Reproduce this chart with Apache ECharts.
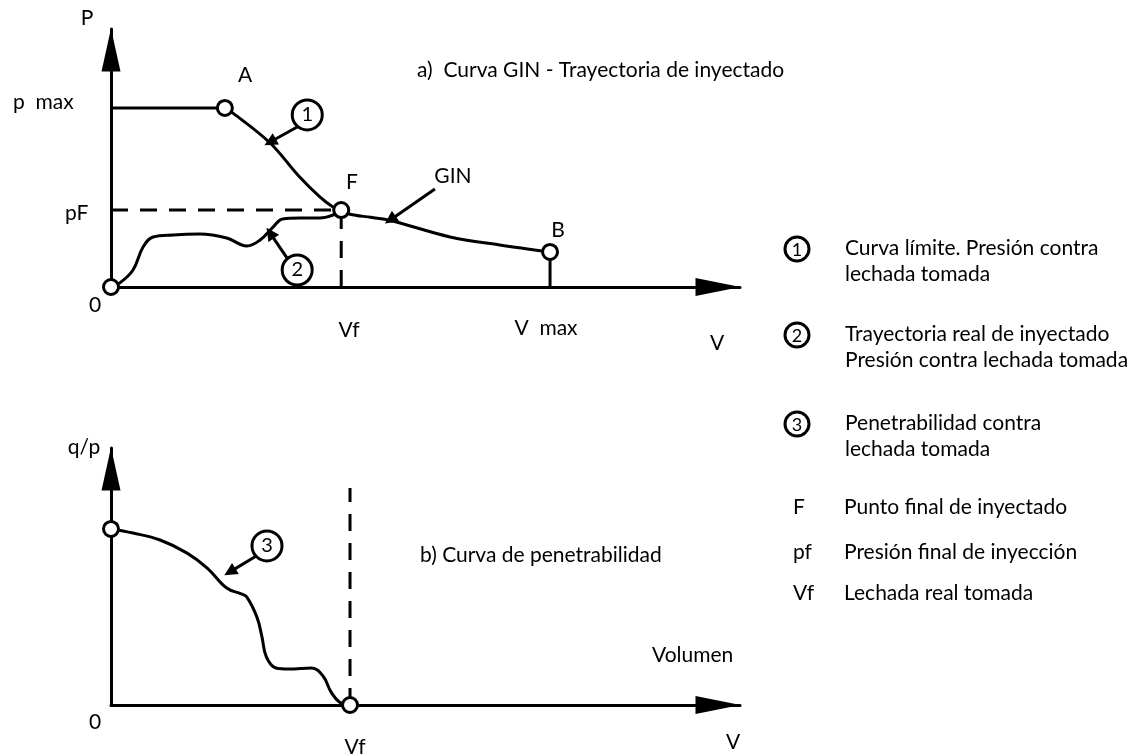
<!DOCTYPE html>
<html>
<head>
<meta charset="utf-8">
<script src="https://cdn.jsdelivr.net/npm/echarts@6/dist/echarts.min.js"></script>
<style>
html, body { margin: 0; padding: 0; background: #fff; }
#chart { width: 1141px; height: 755px; }
</style>
</head>
<body>
<div id="chart"></div>
<script>
// a) Curva GIN - valores en unidades relativas (V: 0-100, P: 0-100)
var pMax = 69.4, pF = 29.8, vF = 36.6, vMax = 69.8, pB = 13.6;
var lineaPmax = [[0, pMax], [18.1, pMax]];
var curvaGin = [[18.1, 69.4], [19.4, 67.4], [25.3, 55.8], [30.0, 42.6], [33.2, 34.9], [35.3, 31.0], [36.6, 29.8],
    [38.0, 28.2], [41.3, 27.0], [44.4, 25.8], [53.9, 19.4], [61.8, 16.3], [69.8, 13.6]];
var trayectoria = [[0, 0], [1.4, 1.6], [3.5, 6.6], [5.1, 15.5], [6.7, 19.4], [9.9, 20.2], [14.1, 20.5], [18.4, 19.0],
    [21.6, 15.9], [23.7, 18.2], [25.8, 23.3], [27.3, 26.4], [30.0, 26.7], [33.2, 26.7], [35.3, 27.9], [36.6, 29.8]];
var puntosA = [[0, 0], [18.1, pMax], [vF, pF], [vMax, pB]];

// b) Curva de penetrabilidad
var vFb = 38.0, qp0 = 68.5, topeVf = 84.4;
var penetrabilidad = [[0, 68.5], [3.5, 66.9], [7.8, 64.2], [12.1, 59.1], [15.3, 53.3], [18.4, 45.5], [20.7, 43.2],
    [21.6, 42.0], [23.2, 34.2], [24.0, 26.5], [24.7, 18.7], [26.2, 14.4], [28.3, 14.0], [31.9, 14.4], [33.7, 11.3],
    [35.0, 5.0], [36.3, 1.2], [38.0, 0]];
var puntosB = [[0, qp0], [vFb, 0]];

// notas numeradas: [x, y, texto], flechas: [desde, hasta]
var notasA = [[31.2, 66.7, '1'], [29.6, 6.6, '2']];
var flechasA = [[[29.6, 62.0], [25.3, 56.2]], [[28.0, 11.2], [25.3, 20.9]], [[51.5, 38.0], [44.4, 26.0]]];
var notasB = [[24.8, 61.9, '3']];
var flechasB = [[[23.1, 58.0], [18.9, 51.8]]];

// leyenda
var leyendaNum = ['1', '2', '3'];
var leyendaNumTxt = [['Curva límite. Presión contra', 'lechada tomada'],
    ['Trayectoria real de inyectado', 'Presión contra lechada tomada'],
    ['Penetrabilidad contra', 'lechada tomada']];
var leyendaSim = ['F', 'pf', 'Vf'];
var leyendaSimTxt = ['Punto final de inyectado', 'Presión final de inyección', 'Lechada real tomada'];

var FONT = 'Lato';
var SIZE = 21;
var ink = '#000';

function eje(grid, vertical) {
    return {
        type: 'value', gridIndex: grid, min: 0, max: 100,
        axisLine: {
            show: true, onZero: false,
            lineStyle: { color: ink, width: 3 },
            symbol: ['none', 'triangle'],
            symbolSize: vertical ? [19, 43] : [18, 45],
            symbolOffset: [0, vertical ? -21 : -22]
        },
        axisTick: { show: false }, axisLabel: { show: false }, splitLine: { show: false }
    };
}

function linea(data, g, smooth, dashed) {
    return {
        type: 'line', xAxisIndex: g, yAxisIndex: g, data: data, smooth: smooth,
        symbol: 'none', clip: false, z: 3,
        lineStyle: { color: ink, width: 3, type: dashed ? [17, 12] : 'solid' }
    };
}

function circulos(data, g) {
    return {
        type: 'scatter', xAxisIndex: g, yAxisIndex: g, data: data, symbolSize: 15, clip: false, z: 5,
        itemStyle: { color: '#fff', borderColor: ink, borderWidth: 3, opacity: 1 }
    };
}

function notas(data, g) {
    return {
        type: 'scatter', xAxisIndex: g, yAxisIndex: g, data: data, symbolSize: 30, clip: false, z: 5,
        itemStyle: { color: '#fff', borderColor: ink, borderWidth: 3, opacity: 1 },
        label: { show: true, position: 'inside', formatter: function (p) { return p.value[2]; },
            color: ink, fontFamily: FONT, fontSize: 20 }
    };
}

function flechas(data, g) {
    return {
        type: 'lines', coordinateSystem: 'cartesian2d', xAxisIndex: g, yAxisIndex: g, z: 4,
        symbol: ['none', 'triangle'], symbolSize: [9, 13],
        lineStyle: { color: ink, width: 3, opacity: 1 },
        data: data.map(function (c) { return { coords: c }; })
    };
}

function texto(x, y, s, align, size) {
    return { type: 'text', x: x, y: y, style: { text: s, fill: ink, font: (size || SIZE) + 'px ' + FONT,
        textAlign: align || 'left', textVerticalAlign: 'middle' } };
}

var graficos = [
    texto(87, 18, 'P', 'center'),
    texto(13, 102, 'p  max'),
    texto(245, 75, 'A', 'center'),
    texto(352, 182, 'F', 'center'),
    texto(65, 213, 'pF'),
    texto(95, 305, '0', 'center'),
    texto(453, 176, 'GIN', 'center'),
    texto(558, 230, 'B', 'center'),
    texto(349, 330, 'Vf', 'center'),
    texto(546, 328, 'V  max', 'center'),
    texto(717, 343, 'V', 'center'),
    texto(417, 70, 'a)  Curva GIN - Trayectoria de inyectado'),
    texto(84, 447, 'q/p', 'center'),
    texto(95, 722, '0', 'center'),
    texto(355, 747, 'Vf', 'center'),
    texto(733, 742, 'V', 'center'),
    texto(652, 655, 'Volumen'),
    texto(420, 555, 'b) Curva de penetrabilidad')
];
var yNum = [249, 335, 424];
leyendaNum.forEach(function (n, i) {
    graficos.push({ type: 'circle', shape: { cx: 797, cy: yNum[i], r: 12 },
        style: { fill: '#fff', stroke: ink, lineWidth: 3 } });
    graficos.push(texto(797, yNum[i] + 1, n, 'center', 18));
    graficos.push(texto(845, yNum[i] - 1, leyendaNumTxt[i][0]));
    graficos.push(texto(845, yNum[i] + 25, leyendaNumTxt[i][1]));
});
var ySim = [507, 552, 593];
leyendaSim.forEach(function (s, i) {
    graficos.push(texto(793, ySim[i], s));
    graficos.push(texto(844, ySim[i], leyendaSimTxt[i]));
});

var chart = echarts.init(document.getElementById('chart'));
chart.setOption({
    backgroundColor: '#fff',
    animation: false,
    grid: [
        { left: 111, top: 29, width: 629, height: 258 },
        { left: 111, top: 448, width: 629, height: 257 }
    ],
    xAxis: [eje(0, false), eje(1, false)],
    yAxis: [eje(0, true), eje(1, true)],
    graphic: graficos,
    series: [
        linea(lineaPmax, 0, false),
        linea(curvaGin, 0, 0.35),
        linea(trayectoria, 0, 0.4),
        linea([[0, pF], [vF, pF]], 0, false, true),
        linea([[vF, 0], [vF, pF]], 0, false, true),
        linea([[vMax, 0], [vMax, pB]], 0, false),
        circulos(puntosA, 0),
        notas(notasA, 0),
        flechas(flechasA, 0),
        linea(penetrabilidad, 1, 0.4),
        linea([[vFb, 0], [vFb, topeVf]], 1, false, true),
        circulos(puntosB, 1),
        notas(notasB, 1),
        flechas(flechasB, 1)
    ]
});
</script>
</body>
</html>
